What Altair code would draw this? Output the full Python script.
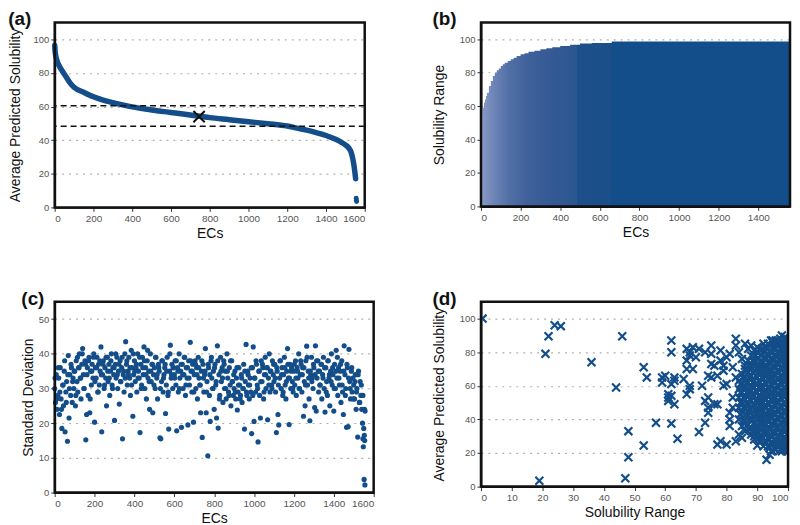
import altair as alt
import pandas as pd

BLUE = "#134e8a"
FONT = "Liberation Sans"

# ---------------- (a) average predicted solubility, sorted ----------------
a_ec = [0, 2, 5, 10, 20, 40, 60, 80, 100, 150, 200, 250, 300, 350, 400, 500, 600,
        700, 800, 900, 1000, 1100, 1200, 1250, 1300, 1350, 1400, 1450, 1480, 1500,
        1520, 1530, 1540, 1548, 1553]
a_avg = [96.5, 93, 90.5, 88, 85, 81, 77.5, 74, 71.5, 68.5, 65.8, 63.8, 62.3, 61, 59.8,
         58, 56.5, 55, 53.4, 52.2, 51, 49.8, 48.4, 47.2, 46, 44.5, 42.8, 40.5, 38.7,
         37.2, 35, 32.8, 28, 22, 17]
a_tail_ec = [1556, 1557, 1558]
a_tail_avg = [5.5, 4.3, 3.5]
a_hlines = [60.5, 48.3]
a_mark_ec = [745]
a_mark_avg = [54]

# ---------------- (b) solubility range, sorted ----------------
b_ec = [0, 5, 10, 15, 20, 25, 30, 40, 50, 60, 70, 80, 90, 100, 110, 120, 135, 150,
        165, 180, 200, 220, 240, 270, 300, 330, 360, 400, 450, 500, 560, 660, 1560]
b_range = [52, 55, 59, 62, 64, 66, 68, 72, 75, 78, 80, 81.5, 82.5, 84, 85, 86, 87, 88,
           89, 90, 91, 91.7, 92.5, 93.2, 94, 94.7, 95.3, 96, 96.7, 97.5, 97.8, 98.7, 98.7]

# ---------------- (c) standard deviation per EC ----------------
# every 4th EC, starting at 0
c_sd = [
    30, 26, 34, 24, 28, 33, 22.5, 36, 27, 18.5, 31, 25, 35, 17.5, 29, 32, 14.8, 39.5, 21.5, 34, 28, 36, 26, 33, 30,
    35, 25, 38, 32, 29, 36, 40, 33, 27, 37, 41.5, 34, 30, 38, 15.2, 22.5, 36, 28, 39, 23, 35, 31, 37, 33, 40,
    20.3, 36, 33, 39, 29, 37, 31, 35, 42, 17.5, 34, 38, 30, 36, 33, 25, 39, 32, 37, 28, 35, 40, 31, 36, 34,
    20.8, 37, 33, 39, 30, 35, 25.5, 38, 32, 36, 15.5, 34, 29, 40, 43.5, 37, 31, 35, 39, 33, 28, 41, 36, 22, 34,
    38, 32, 36, 29, 40, 35, 33, 17.3, 37, 31, 39, 34, 42, 30, 36, 27, 38, 33, 35, 24, 40, 32, 37, 23, 34,
    36, 30, 39, 33, 27, 37, 35, 15.8, 15.5, 32, 38, 29, 34, 36, 22.8, 31, 39, 28, 18.3, 35, 42.5, 33, 37, 30, 36,
    34, 38, 31, 17.8, 36, 29, 40, 33, 35, 18.8, 37, 30, 34, 39, 28, 36, 33, 19.5, 38, 31, 43.3, 35, 29, 37, 20.3,
    34, 38, 30, 36, 27, 39, 33, 31, 23, 35, 15.9, 37, 29, 34, 41.5, 23, 32, 10.6, 36, 28, 20.5, 38, 33, 30, 35,
    24, 37, 31, 21.5, 42.3, 18.6, 34, 28, 39, 32, 36, 26, 38, 30, 35, 27, 40, 33, 29, 36, 31, 25, 38, 32, 28,
    30, 35, 27, 33, 23.8, 29, 36, 31, 28, 34, 26, 30, 37, 18.3, 32, 42.7, 28, 35, 31, 27, 33, 29, 17, 36, 42,
    20.5, 33, 29, 37, 31, 14.6, 35, 28, 21.5, 38, 32, 36, 27, 34, 39, 30, 36, 21, 33, 40, 29, 35, 31, 38, 34,
    32, 37, 29, 17.3, 35, 22.5, 19.5, 33, 38, 30, 36, 28, 34, 39, 31, 27, 35, 41.5, 33, 19.6, 37, 30, 36, 32, 29,
    35, 31, 38, 28, 36, 33, 40, 30, 34, 37, 29, 36, 22, 32, 25, 38, 42.2, 31, 35, 27, 20.7, 34, 39, 33, 30,
    36, 24.5, 42.3, 23.5, 33, 38, 29, 35, 31, 37, 27, 34, 39, 30, 23.2, 36, 32, 28, 38, 33, 25, 35, 40, 31, 34,
    23.5, 37, 30, 41, 33, 28, 36, 31, 35, 26, 38, 29, 22.5, 42.3, 34, 30, 18.8, 36, 19, 41.3, 32, 27, 35, 29, 33,
    31, 27, 34, 24, 30, 16, 35, 26, 32, 28, 24, 20, 13.2, 3.8, 2.2,
]
# every 8th EC, starting at 2
c_sd2 = [
    33, 27, 36, 29, 24, 31, 38, 26, 34, 30, 37, 32, 35, 28, 39,
    36, 33, 40, 30, 37, 34, 38, 27, 35, 39, 32, 36, 29, 38, 34,
    37, 31, 39, 35, 33, 38, 30, 36, 40, 34, 37, 32, 39, 35, 33,
    38, 34, 36, 31, 40, 35, 37, 33, 39, 30, 36, 38, 34, 41, 32,
    35, 37, 31, 39, 34, 36, 30, 38, 33, 37, 35, 29, 40, 34, 36,
    33, 38, 35, 30, 37, 34, 39, 31, 36, 33, 38, 35, 29, 37, 34,
    36, 31, 38, 33, 35, 29, 37, 34, 39, 30, 36, 32, 38, 27, 35,
    33, 37, 30, 35, 28, 38, 32, 34, 29, 36, 31, 27, 33, 30, 35,
    29, 34, 31, 36, 28, 33, 38, 30, 35, 32, 37, 29, 34, 36, 31,
    35, 30, 37, 33, 36, 31, 38, 34, 29, 36, 32, 37, 33, 35, 30,
    37, 33, 35, 30, 38, 34, 36, 31, 39, 33, 35, 32, 37, 34, 38,
    35, 31, 37, 33, 36, 29, 38, 34, 32, 36, 30, 35, 39, 33, 37,
    31, 35, 28, 37, 33, 30, 36, 27, 32, 29, 34, 26, 31, 28, 24,
]
c_extra_ec = [1546, 1550, 1553, 1555, 1557]
c_extra_sd = [15.5, 18.5, 16.5, 15, 23.5]

# ---------------- (d) range vs average ----------------
d_out_range = [0.5, 19, 21, 22, 24, 26, 36, 44, 46, 47, 48, 48, 53, 53, 54, 57, 59, 59, 60, 61,
               61, 61, 62, 62, 62, 62, 62, 63, 63, 63, 64, 66, 67, 67, 67, 67, 68, 68, 68, 68,
               69, 69, 70, 71, 71, 72, 73, 73, 73, 74, 74, 74, 74, 75, 75, 75, 75, 76, 76, 77,
               77, 77, 78, 78, 78, 79, 79, 79, 80, 80, 80, 81, 81, 81, 81, 82, 82, 82, 83, 83,
               83, 83, 84, 84, 85, 85, 86, 86, 87, 88, 89, 90, 90, 91, 92, 93, 94, 95, 95, 96,
               97, 98, 99, 99, 100]
d_out_avg = [100, 3.5, 79, 89.5, 96, 95.5, 74, 59, 89.5, 5, 33, 17.5, 71, 24.5, 65, 38, 65, 62, 66, 55,
             53, 51, 54, 87, 80, 61, 37.5, 49, 65, 63, 28.5, 64, 82, 75, 70, 55, 58, 80, 78, 60,
             83, 70, 77, 82, 32.5, 60, 80, 38, 51, 53, 66, 44, 47, 84, 79, 73, 65, 49, 72, 66,
             49, 25, 27, 81, 75, 60, 72, 69, 25, 61, 77, 79, 44, 40, 36, 71, 53, 47, 88, 84,
             27, 65, 80, 31, 76, 29, 85, 70, 82, 84, 30, 80, 24.5, 81, 24, 16, 19, 21, 87, 86,
             27, 90, 88, 22, 21]
d_blob_range = [84, 84.5, 85, 85.5, 86, 86.5, 87, 87.5, 88, 88.5, 89, 89.5, 90, 90.5, 91, 91.5,
                92, 92.5, 93, 93.5, 94, 94.5, 95, 95.5, 96, 96.5, 97, 97.5, 98, 98.5, 99, 99.5, 100]
d_blob_avg = [
    [40, 47, 53, 58, 63],
    [43, 50, 56, 61],
    [36, 44, 50, 56, 61, 67],
    [39, 47, 53, 59, 65],
    [33, 39, 46, 52, 59, 64, 72],
    [36, 43, 49, 56, 62, 69],
    [37, 42, 49, 55, 62, 68, 75],
    [34, 40, 46, 52, 58, 65, 72],
    [31, 35, 44, 51, 57, 60, 66, 71, 78],
    [33, 40, 47, 54, 62, 68, 75],
    [28, 38, 41, 48, 54, 59, 63, 69, 74, 81],
    [31, 36, 43, 51, 57, 61, 66, 72, 78],
    [33, 36, 44, 47, 52, 56, 61, 65, 70, 76, 83],
    [29, 35, 41, 46, 50, 54, 59, 63, 68, 73, 80],
    [27, 31, 39, 43, 49, 53, 58, 62, 67, 72, 78],
    [29, 34, 37, 41, 46, 51, 56, 60, 65, 70, 75, 82],
    [29, 35, 41, 45, 50, 55, 59, 64, 68, 74, 80, 85],
    [27, 32, 38, 43, 48, 52, 57, 62, 66, 71, 77, 83],
    [26, 32, 37, 43, 47, 52, 57, 61, 66, 71, 76, 82],
    [24, 29, 35, 40, 45, 50, 54, 59, 64, 69, 74, 79, 85],
    [23, 28, 34, 39, 45, 49, 54, 58, 63, 67, 73, 78, 84],
    [21, 26, 31, 37, 42, 47, 52, 56, 61, 65, 70, 76, 81, 87],
    [25, 30, 36, 41, 46, 51, 56, 60, 65, 69, 75, 80, 86],
    [23, 28, 33, 39, 44, 49, 53, 58, 62, 67, 72, 78, 83],
    [22, 27, 32, 38, 43, 48, 53, 57, 62, 66, 71, 77, 82, 87],
    [25, 30, 35, 41, 46, 50, 55, 60, 64, 69, 74, 80, 85],
    [24, 29, 35, 40, 45, 50, 55, 59, 64, 68, 73, 79, 85],
    [22, 27, 32, 38, 43, 48, 53, 57, 62, 66, 71, 76, 82, 88],
    [21, 26, 31, 37, 42, 47, 52, 56, 61, 65, 70, 75, 81, 86],
    [24, 29, 35, 40, 45, 50, 54, 59, 63, 68, 73, 79, 84],
    [23, 28, 33, 39, 44, 49, 54, 58, 63, 67, 72, 77, 83, 89],
    [21, 25, 31, 37, 42, 47, 52, 57, 61, 66, 71, 76, 81, 87],
    [22, 26, 30, 35, 41, 46, 51, 55, 60, 64, 69, 74, 79, 84],
]

# axis limits of each panel (x max, y max)
a_lim = [1600, 110]
b_lim = [1560, 110]
c_lim = [1600, 55]
d_lim = [100, 110]

# ---------------- data frames ----------------
df_a = pd.DataFrame({"ec": a_ec, "avg": a_avg})
df_a_tail = pd.DataFrame({"ec": a_tail_ec, "avg": a_tail_avg})
df_a_h = pd.DataFrame({"avg": a_hlines})
df_a_m = pd.DataFrame({"ec": a_mark_ec, "avg": a_mark_avg})
df_b = pd.DataFrame({"ec": b_ec, "range": b_range})
df_c = pd.DataFrame({
    "ec": [i * 4 for i in range(len(c_sd))] + [2 + i * 8 for i in range(len(c_sd2))] + c_extra_ec,
    "sd": c_sd + c_sd2 + c_extra_sd})
blob_r, blob_a = [], []
for r, vals in zip(d_blob_range, d_blob_avg):
    for v in vals:
        blob_r.append(r)
        blob_a.append(v)
df_d = pd.DataFrame({"range": d_out_range + blob_r, "avg": d_out_avg + blob_a})

CROSS = "M-1,-1L1,1M-1,1L1,-1"


def frame(xname, yname, X, Y, lim):
    df = pd.DataFrame({xname: [0], xname + "2": [lim[0]], yname: [0], yname + "2": [lim[1]]})
    return alt.Chart(df).mark_rect(filled=False, color="#111", strokeWidth=2.5).encode(
        x=X, x2=alt.X2(xname + "2:Q"), y=Y, y2=alt.Y2(yname + "2:Q"))


def xax(title, values):
    return alt.Axis(title=title, values=values, format="d", grid=False, domain=True,
                    domainColor="#111", domainWidth=2,
                    labelColor="#555", labelFontSize=10, labelFont=FONT,
                    titleFont=FONT, titleFontSize=14, titleFontWeight="normal",
                    titleColor="#111", tickColor="#333", tickSize=4, labelPadding=2,
                    titlePadding=3, labelOverlap=False)


def yax(title, values, tpad):
    return alt.Axis(title=title, values=values, format="d", grid=True, gridDash=[2, 5],
                    gridColor="#b0b0b0", gridWidth=1.2, domain=True,
                    domainColor="#111", domainWidth=2,
                    labelColor="#555", labelFontSize=9.5, labelFont=FONT,
                    titleFont=FONT, titleFontSize=14, titleFontWeight="normal",
                    titleColor="#111", tickColor="#333", tickSize=4, labelPadding=2,
                    titlePadding=tpad, labelOverlap=False)


def ptitle(t):
    return alt.TitleParams(t, anchor="start", frame="bounds", fontSize=19,
                           fontWeight="bold", font=FONT, color="#111", offset=-8)


ticks_1600 = list(range(0, 1601, 200))
ticks_1400 = list(range(0, 1401, 200))
ticks_100 = list(range(0, 101, 20))

# (a)
xa = alt.X("ec:Q", scale=alt.Scale(domain=[0, a_lim[0]], nice=False), axis=xax("ECs", ticks_1600))
ya = alt.Y("avg:Q", scale=alt.Scale(domain=[0, a_lim[1]], nice=False),
           axis=yax("Average Predicted Solubility", ticks_100, 11))
a_line = alt.Chart(df_a).mark_line(color=BLUE, strokeWidth=5.5, strokeCap="round",
                                   interpolate="monotone").encode(x=xa, y=ya)
a_tail = alt.Chart(df_a_tail).mark_circle(color=BLUE, size=24, opacity=1).encode(x=xa, y=ya)
a_h = alt.Chart(df_a_h).mark_rule(color="#111", strokeDash=[6, 4], strokeWidth=1.6).encode(y=ya)
a_m = alt.Chart(df_a_m).mark_point(shape=CROSS, size=130, color="#111", strokeWidth=2,
                                   filled=False, opacity=1).encode(x=xa, y=ya)
panel_a = alt.layer(a_line, a_tail, a_h, a_m, frame("ec", "avg", xa, ya, a_lim)).properties(
    width=312, height=186, title=ptitle("(a)"))

# (b)
xb = alt.X("ec:Q", scale=alt.Scale(domain=[0, b_lim[0]], nice=False), axis=xax("ECs", ticks_1400))
yb = alt.Y("range:Q", scale=alt.Scale(domain=[0, b_lim[1]], nice=False),
           axis=yax("Solubility Range", ticks_100, 13))
grad = alt.Gradient(gradient="linear", x1=0, x2=1, y1=0, y2=0, stops=[
    alt.GradientStop(offset=0.0, color="#8a9cc6"),
    alt.GradientStop(offset=0.04, color="#6f85b8"),
    alt.GradientStop(offset=0.09, color="#5270a6"),
    alt.GradientStop(offset=0.15, color="#40619b"),
    alt.GradientStop(offset=0.22, color="#355a95"),
    alt.GradientStop(offset=0.31, color="#2c5690"),
    alt.GradientStop(offset=0.312, color="#1d508b"),
    alt.GradientStop(offset=0.42, color="#1b4f8a"),
    alt.GradientStop(offset=0.422, color="#134e8a"),
    alt.GradientStop(offset=1.0, color="#134e8a"),
])
b_area = alt.Chart(df_b).mark_area(interpolate="step-after", color=grad, opacity=1).encode(x=xb, y=yb)
panel_b = alt.layer(b_area, frame("ec", "range", xb, yb, b_lim)).properties(
    width=311, height=185, title=ptitle("(b)"))

# (c)
xc = alt.X("ec:Q", scale=alt.Scale(domain=[0, c_lim[0]], nice=False), axis=xax("ECs", ticks_1600))
yc = alt.Y("sd:Q", scale=alt.Scale(domain=[0, c_lim[1]], nice=False),
           axis=yax("Standard Deviation", list(range(0, 51, 10)), 3))
c_pts = alt.Chart(df_c).mark_circle(color=BLUE, size=27, opacity=1).encode(x=xc, y=yc)
panel_c = alt.layer(c_pts, frame("ec", "sd", xc, yc, c_lim)).properties(
    width=321, height=192, title=ptitle("(c)"))

# (d)
xd = alt.X("range:Q", scale=alt.Scale(domain=[0, d_lim[0]], nice=False),
           axis=xax("Solubility Range", list(range(0, 101, 10))))
yd = alt.Y("avg:Q", scale=alt.Scale(domain=[0, d_lim[1]], nice=False),
           axis=yax("Average Predicted Solubility", ticks_100, 13))
d_pts = alt.Chart(df_d).mark_point(shape=CROSS, size=64, color=BLUE, strokeWidth=2.2,
                                   filled=False, opacity=1, clip=True).encode(x=xd, y=yd)
panel_d = alt.layer(d_pts, frame("range", "avg", xd, yd, d_lim)).properties(
    width=309, height=186, title=ptitle("(d)"))

chart = alt.concat(panel_a, panel_b, panel_c, panel_d, columns=2, align="none",
                   spacing=alt.RowColnumber(row=49, column=57)).properties(
    padding=0, background="white").configure_view(strokeWidth=0)

chart.save("out.html", embed_options={"renderer": "svg", "actions": False})
